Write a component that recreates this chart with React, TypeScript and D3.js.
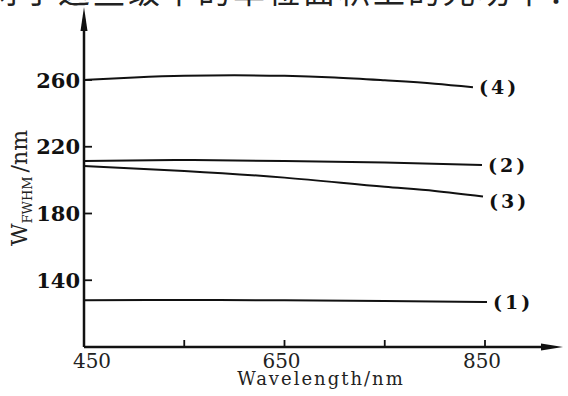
import * as React from 'react'
import * as d3 from 'd3'

// wavelength (nm) vs W_FWHM (nm)
const curve1: [number, number][] = [[450, 128], [550, 128.2], [650, 128], [750, 127.6], [852, 127]]
const curve2: [number, number][] = [[450, 211.5], [550, 212], [650, 211.5], [750, 210.5], [847, 209]]
const curve3: [number, number][] = [[450, 208.5], [550, 205.5], [650, 201.5], [750, 196], [800, 193.5], [848, 190.2]]
const curve4: [number, number][] = [[450, 260], [500, 261.5], [550, 262.5], [600, 262.8], [650, 262.5], [700, 261.5], [750, 259.8], [800, 257.8], [838, 255.7]]

const seriesNames = ['(1)', '(2)', '(3)', '(4)']
const seriesData = [curve1, curve2, curve3, curve4]

const xTicks = [450, 550, 650, 750, 850]
const xTickLabels = [450, 650, 850]
const yTicks = [140, 180, 220, 260]

const headerText = '对于这些级中的单位面积上的光功率：'
const xLabel = 'Wavelength/nm'

export default function App() {
    const W = 568
    const H = 396
    const SERIF = '"DejaVu Serif", "Liberation Serif", serif'

    const x = d3.scaleLinear().domain([450, 850]).range([84, 485])
    const y = d3.scaleLinear().domain([100, 260]).range([347, 80])

    const line = d3.line<[number, number]>()
        .x(d => x(d[0]))
        .y(d => y(d[1]))
        .curve(d3.curveMonotoneX)

    const x0 = x(450)
    const y0 = y(100)
    const xEnd = 563
    const yTop = 7

    return <svg width={W} height={H} viewBox={`0 0 ${W} ${H}`}
        style={{ position: 'absolute', left: 0, top: 0, background: '#fff' }}>
        <rect width={W} height={H} fill="#fff" />

        {/* cropped caption line from the page above */}
        <text x={-12} y={3} fontSize={32} letterSpacing={3} fill="#222"
            fontFamily='"Noto Sans CJK SC", sans-serif'>{headerText}</text>

        {/* axes with arrows */}
        <line x1={x0} y1={y0} x2={xEnd - 12} y2={y0} stroke="#111" strokeWidth={2.5} />
        <path d={`M${xEnd},${y0} L${xEnd - 22},${y0 - 3.5} L${xEnd - 22},${y0 + 3.5} Z`} fill="#111" />
        <line x1={x0} y1={y0} x2={x0} y2={yTop + 12} stroke="#111" strokeWidth={2.5} />
        <path d={`M${x0},${yTop} L${x0 - 3.5},${yTop + 24} L${x0 + 3.5},${yTop + 24} Z`} fill="#111" />

        {/* x ticks */}
        <g>
            {xTicks.map((t, i) =>
                <line key={i} x1={x(t)} x2={x(t)} y1={y0} y2={y0 - 7} stroke="#111" strokeWidth={1.8} />
            )}
            {xTickLabels.map((t, i) =>
                <text key={i} x={x(t)} dx={i == 0 ? 8 : -3} y={368} textAnchor="middle"
                    fontSize={20} fontFamily={SERIF} fill="#222">{t}</text>
            )}
        </g>

        {/* y ticks */}
        <g>
            {yTicks.map((t, i) =>
                <g key={i}>
                    <line x1={x0} x2={x0 + 8} y1={y(t)} y2={y(t)} stroke="#111" strokeWidth={1.8} />
                    <text x={80} y={y(t)} dy="0.36em" textAnchor="end" fontSize={21}
                        fontWeight="bold" fontFamily={SERIF} fill="#111">{t}</text>
                </g>
            )}
        </g>

        {/* curves and their labels */}
        <g>
            {seriesData.map((s, i) => {
                const last = s[s.length - 1]
                return <g key={i}>
                    <path d={line(s) as string} fill="none" stroke="#111" strokeWidth={2} />
                    <text x={x(last[0]) + 6} y={y(last[1])} dy={i == 2 ? '0.6em' : '0.38em'}
                        fontSize={19} fontWeight="bold" letterSpacing={3}
                        fontFamily={SERIF} fill="#111">{seriesNames[i]}</text>
                </g>
            })}
        </g>

        {/* axis titles */}
        <text x={321} y={385} textAnchor="middle" fontSize={18} letterSpacing={2}
            fontFamily={SERIF} fill="#222">{xLabel}</text>
        <text transform="translate(27 188) rotate(-90)" textAnchor="middle"
            fontFamily={SERIF} fill="#222" fontSize={22}>
            W<tspan fontSize={13} dy={5}>FWHM</tspan><tspan dy={-5} dx={4}>/nm</tspan>
        </text>
    </svg>
}
